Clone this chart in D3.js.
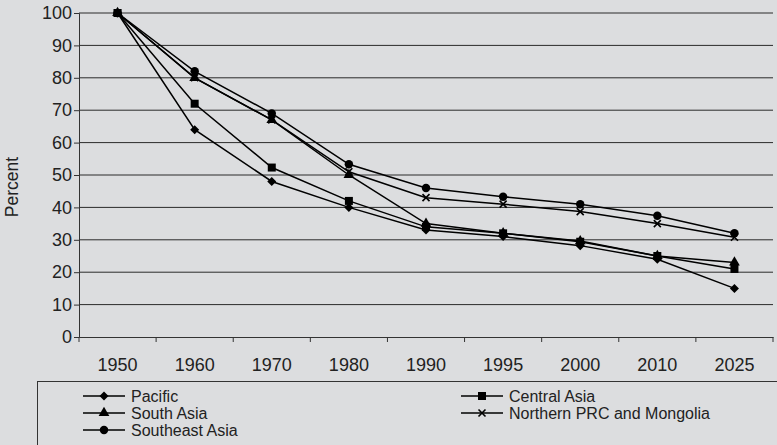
<!DOCTYPE html>
<html>
<head>
<meta charset="utf-8">
<script src="https://cdn.jsdelivr.net/npm/d3@7"></script>
<style>
  body { margin: 0; background: #dcdddf; }
  text { font-family: "Liberation Sans", Arial, sans-serif; fill: #222; }
</style>
</head>
<body>
<div id="canvas"></div>
<script>
const years = ["1950", "1960", "1970", "1980", "1990", "1995", "2000", "2010", "2025"];
const pacific = [100, 64, 48, 40, 33, 31, 28.2, 24, 15];
const centralAsia = [100, 72, 52.3, 42, 34, 32, 29.4, 25, 21];
const southAsia = [100, 80, 67, 50, 35, 32, 29.6, 25, 23];
const northernPRC = [100, 80, 67, 51, 43, 41, 38.7, 35, 30.8];
const southeastAsia = [100, 82, 69, 53.3, 46, 43.3, 41, 37.4, 32];
const yTicks = [0, 10, 20, 30, 40, 50, 60, 70, 80, 90, 100];

const series = [
  { name: "Pacific", values: pacific, symbol: "diamond" },
  { name: "Central Asia", values: centralAsia, symbol: "square" },
  { name: "South Asia", values: southAsia, symbol: "triangle" },
  { name: "Northern PRC and Mongolia", values: northernPRC, symbol: "cross" },
  { name: "Southeast Asia", values: southeastAsia, symbol: "circle" }
];

const width = 777;
const height = 445;
const margin = { top: 13, left: 79, bottom: 108, right: 4 };
const iwidth = width - margin.left - margin.right;
const iheight = height - margin.top - margin.bottom;

const svg = d3.select("#canvas").append("svg")
  .attr("width", width)
  .attr("height", height)
  .style("display", "block");

svg.append("rect").attr("width", width).attr("height", height).attr("fill", "#dcdddf");

const g = svg.append("g").attr("transform", `translate(${margin.left},${margin.top})`);

const x = d3.scaleBand().domain(years).range([0, iwidth]);
const y = d3.scaleLinear().domain([0, 100]).range([iheight, 0]);

// gridlines
g.selectAll(".grid")
  .data(yTicks.filter(d => d > 0))
  .enter().append("line")
  .attr("x1", 0).attr("x2", iwidth)
  .attr("y1", d => y(d)).attr("y2", d => y(d))
  .attr("stroke", "#2a2a2a").attr("stroke-width", 1);

const yAxis = g.append("g")
  .call(d3.axisLeft(y).tickValues(yTicks).tickSize(5).tickPadding(2));
yAxis.selectAll("text").style("font-size", "18px");

const xAxis = g.append("g")
  .attr("transform", `translate(0,${iheight})`)
  .call(d3.axisBottom(x).tickSize(0).tickPadding(21));
xAxis.selectAll("text").style("font-size", "18px");
// ticks on band edges
xAxis.selectAll(".edge")
  .data(d3.range(years.length + 1))
  .enter().append("line")
  .attr("x1", i => i * x.bandwidth()).attr("x2", i => i * x.bandwidth())
  .attr("y1", 0).attr("y2", 5)
  .attr("stroke", "#333");
svg.selectAll(".domain").attr("stroke", "#333");
svg.selectAll(".tick line").attr("stroke", "#333");

svg.append("text")
  .attr("transform", `translate(18,${margin.top + iheight / 2 + 12}) rotate(-90)`)
  .attr("text-anchor", "middle")
  .style("font-size", "17.5px")
  .text("Percent");

function drawMarker(sel, symbol) {
  if (symbol === "cross") {
    sel.append("path").attr("d", "M-3.5,-3.5L3.5,3.5M-3.5,3.5L3.5,-3.5")
      .attr("stroke", "#000").attr("stroke-width", 1.6).attr("fill", "none");
  } else if (symbol === "diamond") {
    sel.append("path").attr("d", "M0,-4.5L4.5,0L0,4.5L-4.5,0Z").attr("fill", "#000");
  } else {
    const types = { square: d3.symbolSquare, triangle: d3.symbolTriangle, circle: d3.symbolCircle };
    const sizes = { square: 64, triangle: 50, circle: 56 };
    sel.append("path").attr("d", d3.symbol().type(types[symbol]).size(sizes[symbol])())
      .attr("fill", "#000");
  }
}

const line = d3.line()
  .x((d, i) => x(years[i]) + x.bandwidth() / 2)
  .y(d => y(d));

series.forEach(s => {
  g.append("path")
    .attr("d", line(s.values))
    .attr("fill", "none")
    .attr("stroke", "#000")
    .attr("stroke-width", 1.5);
  s.values.forEach((v, i) => {
    const m = g.append("g")
      .attr("transform", `translate(${x(years[i]) + x.bandwidth() / 2},${y(v)})`);
    drawMarker(m, s.symbol);
  });
});

// legend
svg.append("rect")
  .attr("x", 37.5).attr("y", 381.5)
  .attr("width", 760).attr("height", 80)
  .attr("fill", "none").attr("stroke", "#333");

const legendPos = [
  { col: 0, row: 0 }, { col: 1, row: 0 }, { col: 0, row: 1 }, { col: 1, row: 1 }, { col: 0, row: 2 }
];
const colX = [83, 461];
series.forEach((s, i) => {
  const lx = colX[legendPos[i].col];
  const ly = 396 + legendPos[i].row * 17;
  const lg = svg.append("g").attr("transform", `translate(${lx},${ly})`);
  lg.append("line").attr("x1", 0).attr("x2", 42).attr("stroke", "#000").attr("stroke-width", 1.6);
  drawMarker(lg.append("g").attr("transform", "translate(21,0)"), s.symbol);
  lg.append("text").attr("x", 48).attr("y", 6).style("font-size", "16px").text(s.name);
});
</script>
</body>
</html>
